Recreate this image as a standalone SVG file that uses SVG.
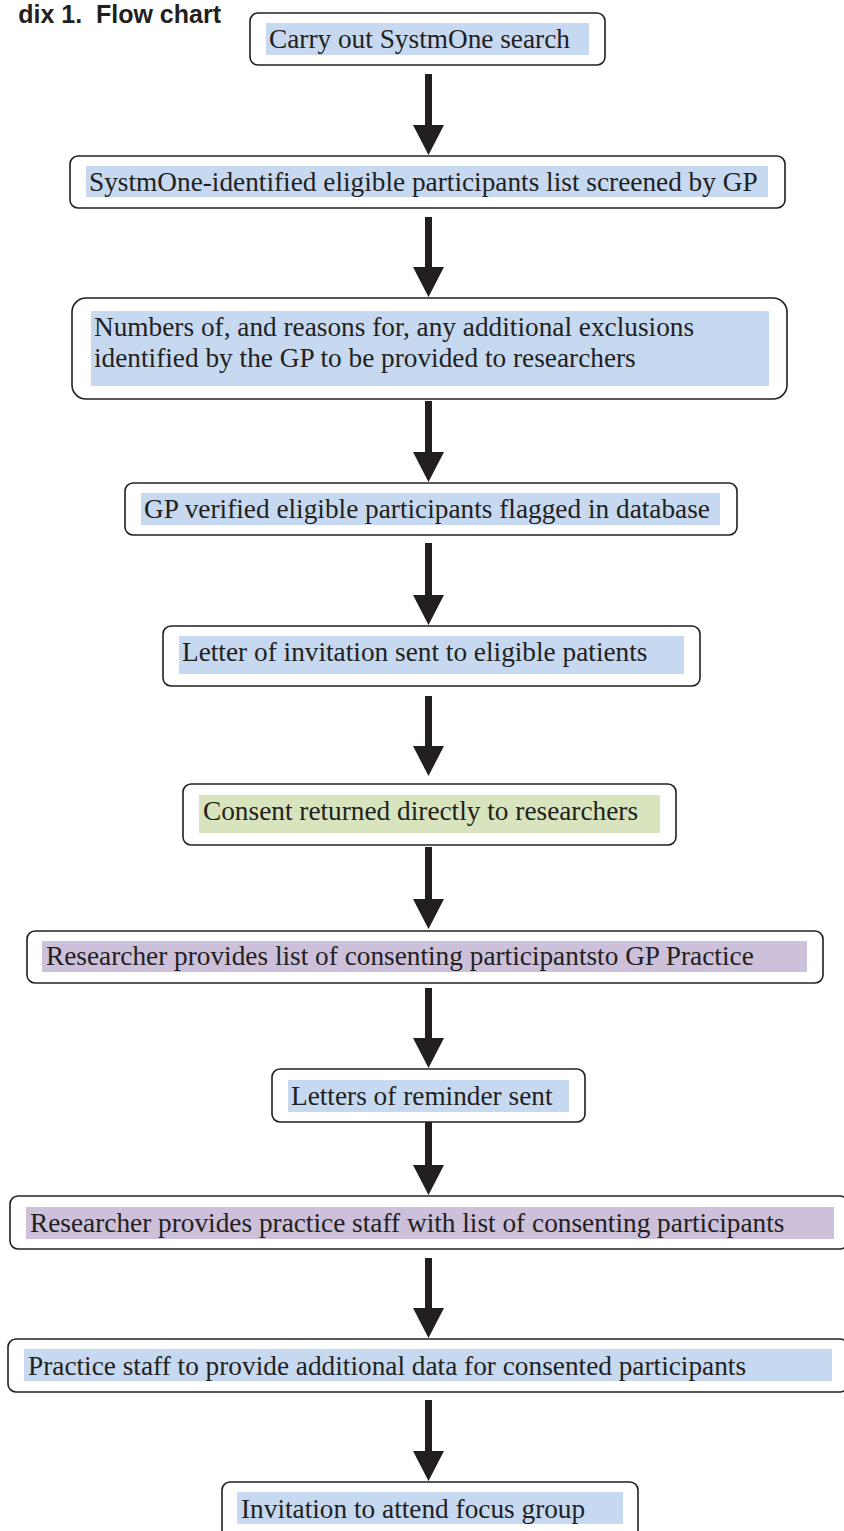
<svg xmlns="http://www.w3.org/2000/svg" width="844" height="1531" viewBox="0 0 844 1531">
<style>
.box{fill:#ffffff;stroke:#231f20;stroke-width:1.6}
.hb{fill:#c6d9f0}
.hg{fill:#d7e4bd}
.hp{fill:#ccc0da}
.t{font-family:"Liberation Serif","Times New Roman",serif;font-size:27.3px;fill:#231f20}
.title{font-family:"Liberation Sans",Arial,sans-serif;font-size:25px;font-weight:bold;fill:#231f20}
.ar{fill:#231f20}
</style>
<rect width="844" height="1531" fill="#ffffff"/>
<text class="title" x="221" y="23" text-anchor="end" xml:space="preserve">dix 1.  Flow chart</text>

<g id="connectors">
<path class="ar" d="M425,74 H432 V125 H444 L428.5,155 L413,125 H425 Z"/>
<path class="ar" d="M425,217 H432 V267 H444 L428.5,297 L413,267 H425 Z"/>
<path class="ar" d="M425,401 H432 V452 H444 L428.5,482 L413,452 H425 Z"/>
<path class="ar" d="M425,543 H432 V595 H444 L428.5,625 L413,595 H425 Z"/>
<path class="ar" d="M425,696 H432 V746 H444 L428.5,776 L413,746 H425 Z"/>
<path class="ar" d="M425,847 H432 V899 H444 L428.5,929 L413,899 H425 Z"/>
<path class="ar" d="M425,988 H432 V1038 H444 L428.5,1068 L413,1038 H425 Z"/>
<path class="ar" d="M425,1122 H432 V1165 H444 L428.5,1195 L413,1165 H425 Z"/>
<path class="ar" d="M425,1258 H432 V1308 H444 L428.5,1338 L413,1308 H425 Z"/>
<path class="ar" d="M425,1400 H432 V1451 H444 L428.5,1481 L413,1451 H425 Z"/>
</g>

<g id="n1">
<rect class="box" x="250" y="13" width="355" height="52" rx="8"/>
<rect class="hb" x="266" y="23" width="323" height="32"/>
<text class="t" x="269" y="48">Carry out SystmOne search</text>
</g>
<g id="n2">
<rect class="box" x="70" y="156" width="715" height="52" rx="8"/>
<rect class="hb" x="86" y="166" width="682" height="31"/>
<text class="t" x="89" y="191">SystmOne-identified eligible participants list screened by GP</text>
</g>
<g id="n3">
<rect class="box" x="72" y="298" width="715" height="101" rx="14"/>
<rect class="hb" x="91" y="311" width="678" height="75"/>
<text class="t" x="94" y="336">Numbers of, and reasons for, any additional exclusions</text>
<text class="t" x="94" y="367">identified by the GP to be provided to researchers</text>
</g>
<g id="n4">
<rect class="box" x="125" y="483" width="612" height="52" rx="8"/>
<rect class="hb" x="141" y="493" width="579" height="32"/>
<text class="t" x="144" y="518">GP verified eligible participants flagged in database</text>
</g>
<g id="n5">
<rect class="box" x="163" y="626" width="537" height="60" rx="8"/>
<rect class="hb" x="179" y="636" width="505" height="38"/>
<text class="t" x="182" y="661">Letter of invitation sent to eligible patients</text>
</g>
<g id="n6">
<rect class="box" x="183" y="784" width="493" height="61" rx="8"/>
<rect class="hg" x="199" y="795" width="461" height="38"/>
<text class="t" x="203" y="820">Consent returned directly to researchers</text>
</g>
<g id="n7">
<rect class="box" x="27" y="931" width="796" height="52" rx="8"/>
<rect class="hp" x="42" y="941" width="765" height="31"/>
<text class="t" x="46" y="965">Researcher provides list of consenting participantsto GP Practice</text>
</g>
<g id="n8">
<rect class="box" x="272" y="1069" width="313" height="53" rx="8"/>
<rect class="hb" x="288" y="1080" width="281" height="32"/>
<text class="t" x="291" y="1105">Letters of reminder sent</text>
</g>
<g id="n9">
<rect class="box" x="10" y="1196" width="838" height="53" rx="8"/>
<rect class="hp" x="26" y="1207" width="808" height="32"/>
<text class="t" x="30" y="1232">Researcher provides practice staff with list of consenting participants</text>
</g>
<g id="n10">
<rect class="box" x="8" y="1339" width="840" height="53" rx="8"/>
<rect class="hb" x="24" y="1349" width="808" height="32"/>
<text class="t" x="28" y="1375">Practice staff to provide additional data for consented participants</text>
</g>
<g id="n11">
<rect class="box" x="222" y="1482" width="416" height="60" rx="8"/>
<rect class="hb" x="237" y="1492" width="386" height="32"/>
<text class="t" x="241" y="1518">Invitation to attend focus group</text>
</g>
</svg>
